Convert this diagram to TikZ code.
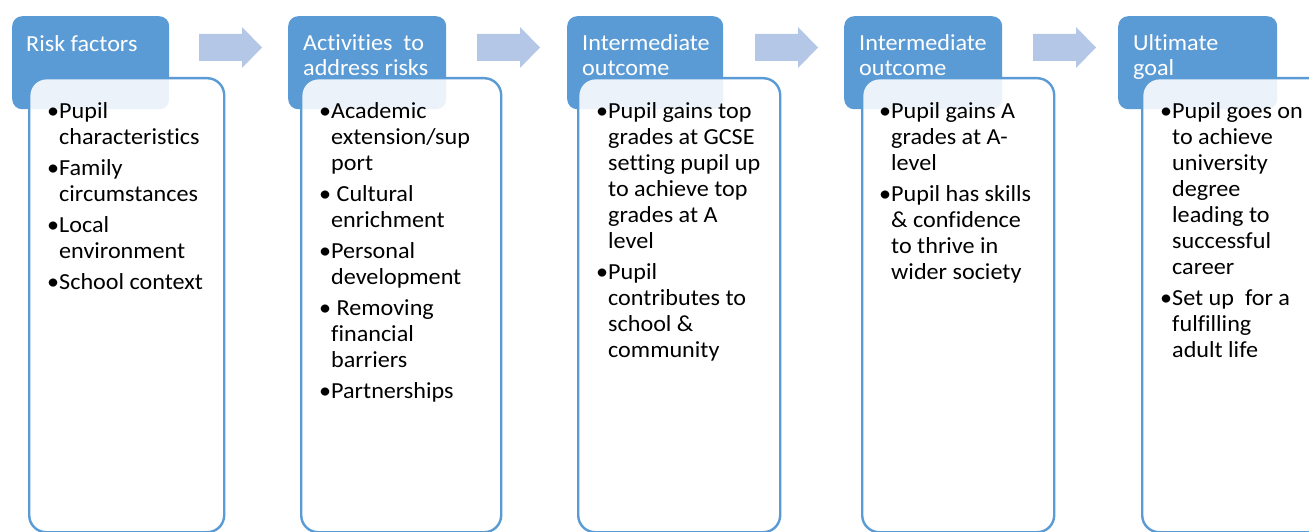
\documentclass[tikz,border=0pt]{standalone}
\usepackage{fontspec}
\setmainfont{Carlito}[FakeStretch=1.05, Ligatures={NoCommon}]
\definecolor{hdrblue}{HTML}{5B9BD5}
\definecolor{arrblue}{HTML}{B4C7E7}
\newcommand\bul{\llap{•}}
\newcommand\tstrut{\rule{0pt}{20pt}}
\begin{document}
\begin{tikzpicture}[x=1pt,y=-1pt,
  hdrbox/.style={fill=hdrblue, draw=none, rounded corners=10pt, inner sep=0pt, anchor=north west},
  bodybox/.style={fill=white, fill opacity=0.88, draw=hdrblue, draw opacity=1, line width=2.4pt, rounded corners=17pt, inner sep=0pt, anchor=north west},
  hdrtext/.style={text=white, anchor=north west, align=left, inner sep=0pt, font=\fontsize{23}{25}\selectfont},
  bodytext/.style={text=black, anchor=north west, align=left, inner sep=0pt, font=\fontsize{23}{26}\selectfont},
  flowarrow/.style={fill=arrblue, draw=none}]
\useasboundingbox (0,0) rectangle (1309,532);
\fill[white] (0,0) rectangle (1309,532);
% headers
\node[hdrbox, minimum width=157pt, minimum height=93pt] (h1) at (12,16) {};
\node[hdrbox, minimum width=158pt, minimum height=93pt] (h2) at (288,16) {};
\node[hdrbox, minimum width=156pt, minimum height=93pt] (h3) at (567,16) {};
\node[hdrbox, minimum width=158pt, minimum height=93pt] (h4) at (844,16) {};
\node[hdrbox, minimum width=159pt, minimum height=93pt] (h5) at (1118,16) {};
\node[hdrtext] (h1t) at (26,31) {\tstrut Risk factors};
\node[hdrtext] (h2t) at (303,30) {\tstrut Activities\ \ to\\address risks};
\node[hdrtext] (h3t) at (582,30) {\tstrut Intermediate\\outcome};
\node[hdrtext] (h4t) at (859,30) {\tstrut Intermediate\\outcome};
\node[hdrtext] (h5t) at (1133,30) {\tstrut Ultimate\\goal};
% arrows
\foreach \x/\n in {199/a1,477/a2,755/a3,1033/a4}{
  \coordinate (\n) at (\x,47.5);
  \fill[flowarrow] (\n) ++(0,-13.5) -- ++(43,0) -- ++(0,-7) -- ++(20,20.5) -- ++(-20,20.5) -- ++(0,-7) -- ++(-43,0) -- cycle;
}
% body boxes
\node[bodybox, minimum width=195pt, minimum height=454pt] (b1) at (28,77) {};
\node[bodybox, minimum width=200pt, minimum height=454pt] (b2) at (300,77) {};
\node[bodybox, minimum width=202pt, minimum height=454pt] (b3) at (577,77) {};
\node[bodybox, minimum width=192pt, minimum height=454pt] (b4) at (861,77) {};
\node[bodybox, minimum width=200pt, minimum height=454pt] (b5) at (1141,77) {};
% body texts
\node[bodytext] (b1t) at (59,98) {\tstrut\bul Pupil\\characteristics\\[5pt]\bul Family\\circumstances\\[5pt]\bul Local\\environment\\[5pt]\bul School context};
\node[bodytext] (b2t) at (331,98) {\tstrut\bul Academic\\extension/sup\\port\\[5pt]\bul\ Cultural\\enrichment\\[5pt]\bul Personal\\development\\[5pt]\bul\ Removing\\financial\\barriers\\[5pt]\bul Partnerships};
\node[bodytext] (b3t) at (608,98) {\tstrut\bul Pupil gains top\\grades at GCSE\\setting pupil up\\to achieve top\\grades at A\\level\\[5pt]\bul Pupil\\contributes to\\school \&\\community};
\node[bodytext] (b4t) at (891,98) {\tstrut\bul Pupil gains A\\grades at A-\\level\\[5pt]\bul Pupil has skills\\\& confidence\\to thrive in\\wider society};
\node[bodytext] (b5t) at (1172,98) {\tstrut\bul Pupil goes on\\to achieve\\university\\degree\\leading to\\successful\\career\\[5pt]\bul Set up\ \ for a\\fulfilling\\adult life};
\end{tikzpicture}
\end{document}
